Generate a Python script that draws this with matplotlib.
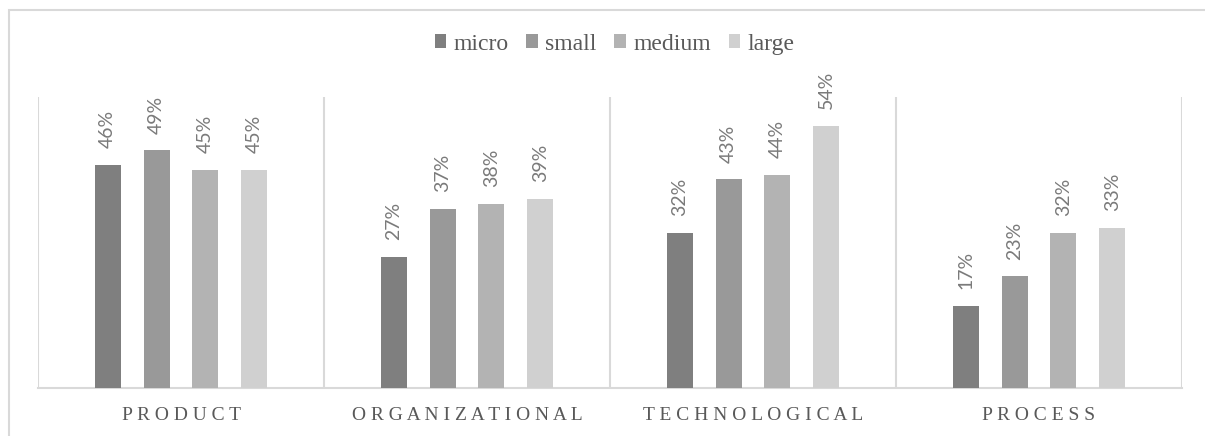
import matplotlib.pyplot as plt
import numpy as np
from matplotlib.patches import Rectangle

categories = ['PRODUCT', 'ORGANIZATIONAL', 'TECHNOLOGICAL', 'PROCESS']
series = ['micro', 'small', 'medium', 'large']
micro = [46, 27, 32, 17]
small = [49, 37, 43, 23]
medium = [45, 38, 44, 32]
large = [45, 39, 54, 33]

colors = ['#7f7f7f', '#999999', '#b3b3b3', '#d0d0d0']
values = [micro, small, medium, large]

fig = plt.figure(figsize=(12.05, 4.36), dpi=100)
ax = fig.add_axes([38/1205, 1-388/436, (1182-38)/1205, (388-97)/436])

# outer chart border (top & left visible)
fig.patches.append(Rectangle((9/1205, -0.1), 1.2, 1-10/436+0.1, transform=fig.transFigure,
                             fill=False, edgecolor='#d9d9d9', lw=1.5))

x = np.arange(len(categories))
step = 0.171
width = 0.091
for i, (name, vals) in enumerate(zip(series, values)):
    pos = x + (i - 1.5) * step
    bars = ax.bar(pos, vals, width, color=colors[i], label=name, zorder=3)
    for b, v in zip(bars, vals):
        ax.annotate('%d%%' % v, (b.get_x() + b.get_width()/2, v),
                    xytext=(0, 12), textcoords='offset points',
                    rotation=90, ha='center', va='bottom',
                    fontsize=14, color='#7a7a7a', family='Lato',
                    annotation_clip=False)

ax.set_xlim(-0.5, len(categories) - 0.5)
ax.set_ylim(0, 60)
ax.set_yticks([])
ax.set_xticks(x)
ax.set_xticklabels([' '.join(c) for c in categories], family='Liberation Serif',
                   fontsize=14, color='#595959')
ax.tick_params(axis='x', length=0, pad=14)
for s in ['top', 'right', 'left']:
    ax.spines[s].set_visible(False)
ax.spines['bottom'].set_color('#d9d9d9')
ax.spines['bottom'].set_linewidth(1.5)

# separators between categories
for xv in np.arange(-0.5, len(categories), 1.0):
    ax.axvline(xv, color='#d9d9d9', lw=1.5, zorder=1)

leg = fig.legend(loc='center', bbox_to_anchor=(0.51, 1-44/436), ncol=4, frameon=False,
                 prop={'family': 'Liberation Serif', 'size': 17},
                 handlelength=0.5, handleheight=0.5, handletextpad=0.3, columnspacing=0.75)
for t in leg.get_texts():
    t.set_color('#595959')

fig.savefig('out.png', dpi=100)
